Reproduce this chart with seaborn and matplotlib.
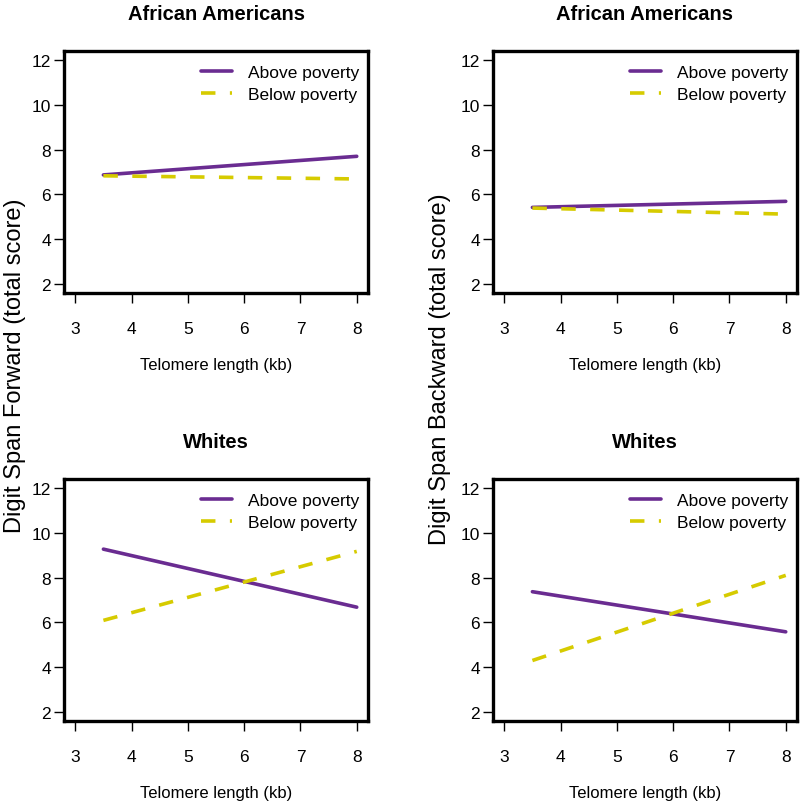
import numpy as np
import pandas as pd
import matplotlib
matplotlib.use("Agg")
import matplotlib.pyplot as plt
import seaborn as sns

# ---- data ----
telomere_x = [3.5, 8.0]
groups = ["Above poverty", "Below poverty"]

aa_forward_above = [6.87, 7.70]
aa_forward_below = [6.83, 6.69]
aa_backward_above = [5.42, 5.69]
aa_backward_below = [5.39, 5.12]
wh_forward_above = [9.27, 6.68]
wh_forward_below = [6.09, 9.17]
wh_backward_above = [7.37, 5.58]
wh_backward_below = [4.30, 8.10]

panel_titles = ["African Americans", "African Americans", "Whites", "Whites"]
x_ticks = [3, 4, 5, 6, 7, 8]
y_ticks = [2, 4, 6, 8, 10, 12]
x_label = "Telomere length (kb)"
y_label_left = "Digit Span Forward (total score)"
y_label_right = "Digit Span Backward (total score)"

panels = [
    (aa_forward_above, aa_forward_below),
    (aa_backward_above, aa_backward_below),
    (wh_forward_above, wh_forward_below),
    (wh_backward_above, wh_backward_below),
]

sns.set_theme(style="white")
plt.rcParams["font.family"] = ["Liberation Sans", "DejaVu Sans"]
plt.rcParams["text.color"] = "black"
plt.rcParams["axes.labelcolor"] = "black"
plt.rcParams["xtick.color"] = "black"
plt.rcParams["ytick.color"] = "black"

purple = "#6A2C91"
yellow = "#D6CB00"
palette = {groups[0]: purple, groups[1]: yellow}
dashes = {groups[0]: "", groups[1]: (4, 4)}

fig = plt.figure(figsize=(8.0, 8.04), dpi=100)
W, H = 800, 804
# axes boxes in pixels: (left, top, right, bottom)
boxes = [
    (64, 52, 368, 294),
    (493, 52, 797, 294),
    (64, 480, 368, 722),
    (493, 480, 797, 722),
]

for (above, below), title, (l, t, r, b) in zip(panels, panel_titles, boxes):
    ax = fig.add_axes([l / W, 1 - b / H, (r - l) / W, (b - t) / H])
    df = pd.DataFrame({
        "x": telomere_x * 2,
        "y": list(above) + list(below),
        "group": [groups[0]] * 2 + [groups[1]] * 2,
    })
    sns.lineplot(data=df, x="x", y="y", hue="group", style="group",
                 palette=palette, dashes=dashes, linewidth=2.6, ax=ax,
                 hue_order=groups, style_order=groups)
    ax.set_xlim(2.8, 8.2)
    ax.set_ylim(1.6, 12.4)
    ax.set_xticks(x_ticks)
    ax.set_yticks(y_ticks)
    ax.tick_params(axis="both", which="major", direction="out", length=7.5,
                   width=1, color="black", labelsize=12.5, labelcolor="black",
                   left=True, bottom=True)
    ax.tick_params(axis="x", pad=13)
    ax.tick_params(axis="y", pad=2)
    for sp in ax.spines.values():
        sp.set_visible(True)
        sp.set_linewidth(2.4)
        sp.set_color("black")
    ax.set_xlabel(x_label, fontsize=12, labelpad=15)
    ax.set_ylabel("")
    ax.set_title(title, fontsize=14.5, fontweight="bold", pad=23,
                 color="black")
    leg = ax.legend(loc="upper right", bbox_to_anchor=(1.0, 0.98),
                    frameon=False, fontsize=12.5,
                    handlelength=1.75, handletextpad=0.95, labelspacing=0.4,
                    borderaxespad=0.3, borderpad=0.2)
    for line in leg.get_lines():
        line.set_linewidth(2.6)

fig.text(15 / W, 1 - 366 / H, y_label_left, rotation=90, va="center",
         ha="center", fontsize=17)
fig.text(440 / W, 1 - 369 / H, y_label_right, rotation=90, va="center",
         ha="center", fontsize=17)

fig.savefig("out.png", dpi=100)
